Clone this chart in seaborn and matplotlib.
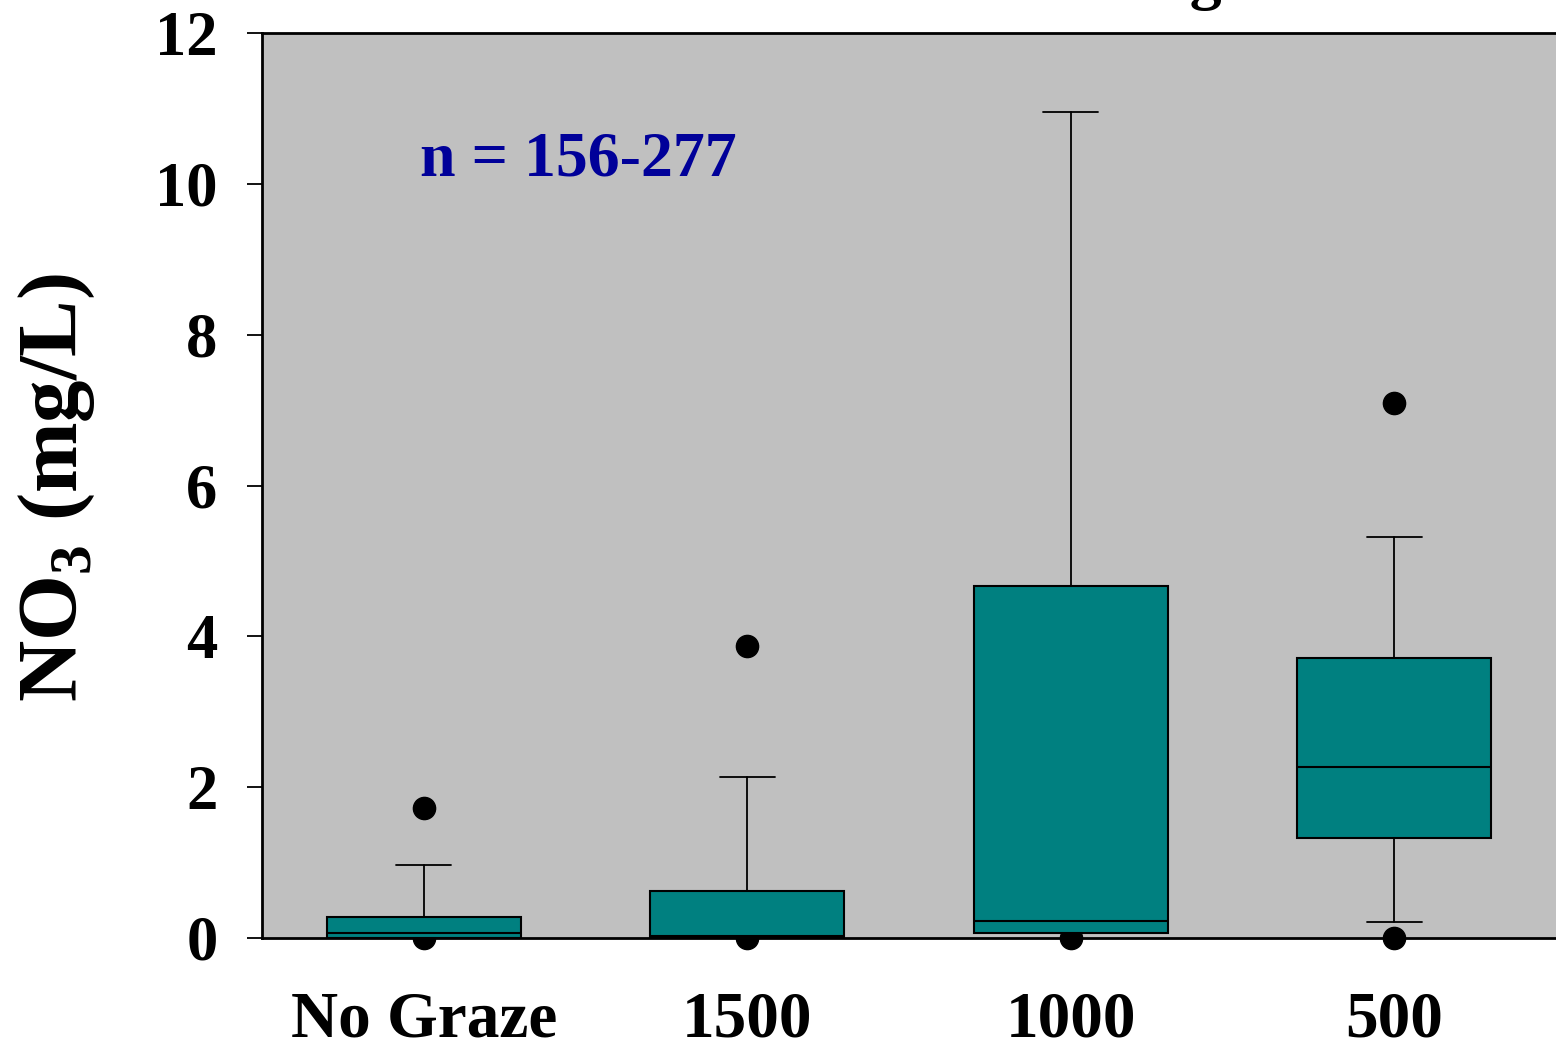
import numpy as np
import pandas as pd
import matplotlib
matplotlib.use("Agg")
import matplotlib.pyplot as plt
import seaborn as sns

###################################
# Box statistics (NO3, mg/L).

groups = ["No Graze", "1500", "1000", "500"]
q1 = [0.0, 0.0, 0.07, 1.33]
median = [0.07, 0.03, 0.23, 2.27]
q3 = [0.28, 0.62, 4.67, 3.71]
whisk_lo = [0.0, 0.0, 0.07, 0.21]
whisk_hi = [0.97, 2.13, 10.95, 5.32]
outliers = [[1.72, 0.0], [3.87, 0.0], [0.0], [7.10, 0.0]]

y_ticks = [0, 2, 4, 6, 8, 10, 12]
n_label = "n = 156-277"

###################################

sns.set_style("ticks")
plt.rcParams["font.family"] = ["Liberation Serif", "DejaVu Serif"]
plt.rcParams["font.weight"] = "bold"
plt.rcParams["text.color"] = "black"
plt.rcParams["xtick.color"] = "black"
plt.rcParams["ytick.color"] = "black"
plt.rcParams["mathtext.fontset"] = "custom"
plt.rcParams["mathtext.rm"] = "Liberation Serif:bold"
plt.rcParams["mathtext.bf"] = "Liberation Serif:bold"

fig = plt.figure(figsize=(15.56, 10.51), dpi=100)
ax = fig.add_axes([262 / 1556, 113 / 1051, 1294 / 1556, 905 / 1051])
ax.set_facecolor("#C0C0C0")

# Build the stats list that bxp wants.
stats = []
for i, g in enumerate(groups):
    stats.append({
        "label": g,
        "q1": q1[i], "med": median[i], "q3": q3[i],
        "whislo": whisk_lo[i], "whishi": whisk_hi[i],
        "fliers": outliers[i],
    })

bp = ax.bxp(stats, positions=range(len(groups)), widths=0.6,
            patch_artist=True, showfliers=True, capwidths=0.17,
            boxprops=dict(facecolor="#008080", edgecolor="black",
                          linewidth=1.5, zorder=3),
            medianprops=dict(color="black", linewidth=1.5, zorder=4),
            whiskerprops=dict(color="black", linewidth=1.3, zorder=2),
            capprops=dict(color="black", linewidth=1.3, zorder=2),
            flierprops=dict(marker="o", markerfacecolor="black",
                            markeredgecolor="black", markersize=16,
                            linestyle="none", zorder=2.5))

# Fliers sitting on zero hang below the axis line.
for fl in bp["fliers"]:
    fl.set_clip_on(False)

ax.set_xlim(-0.5, 3.5)
ax.set_ylim(0, 12)
ax.set_yticks(y_ticks)
ax.set_yticklabels([str(t) for t in y_ticks])

ax.tick_params(axis="y", direction="out", length=11, width=1.3,
               labelsize=45, pad=21, colors="black")
ax.tick_params(axis="x", length=0, labelsize=47, pad=38, colors="black")

for side in ["left", "bottom", "top"]:
    ax.spines[side].set_visible(True)
    ax.spines[side].set_color("black")
    ax.spines[side].set_linewidth(2)
ax.spines["right"].set_visible(False)

# Y label with the subscript.
fig.text(57 / 1556, (1051 - 488) / 1051,
         r"NO$_{\mathrm{3}}$ (mg/L)", rotation=90, color="black",
         ha="center", va="center", fontsize=61, fontweight="bold")

ax.text((420 - 262) / 1294, (938 - 176) / 905, n_label,
        transform=ax.transAxes, color="#000099", fontsize=46,
        fontweight="bold", va="baseline", ha="left")

# Title sits mostly above the canvas, only a descender shows.
fig.text(1222 / 1556, 1.003, "Effect of Grazing", ha="right",
         va="baseline", fontsize=46, fontweight="bold", color="black")

fig.savefig("out.png", dpi=100)
